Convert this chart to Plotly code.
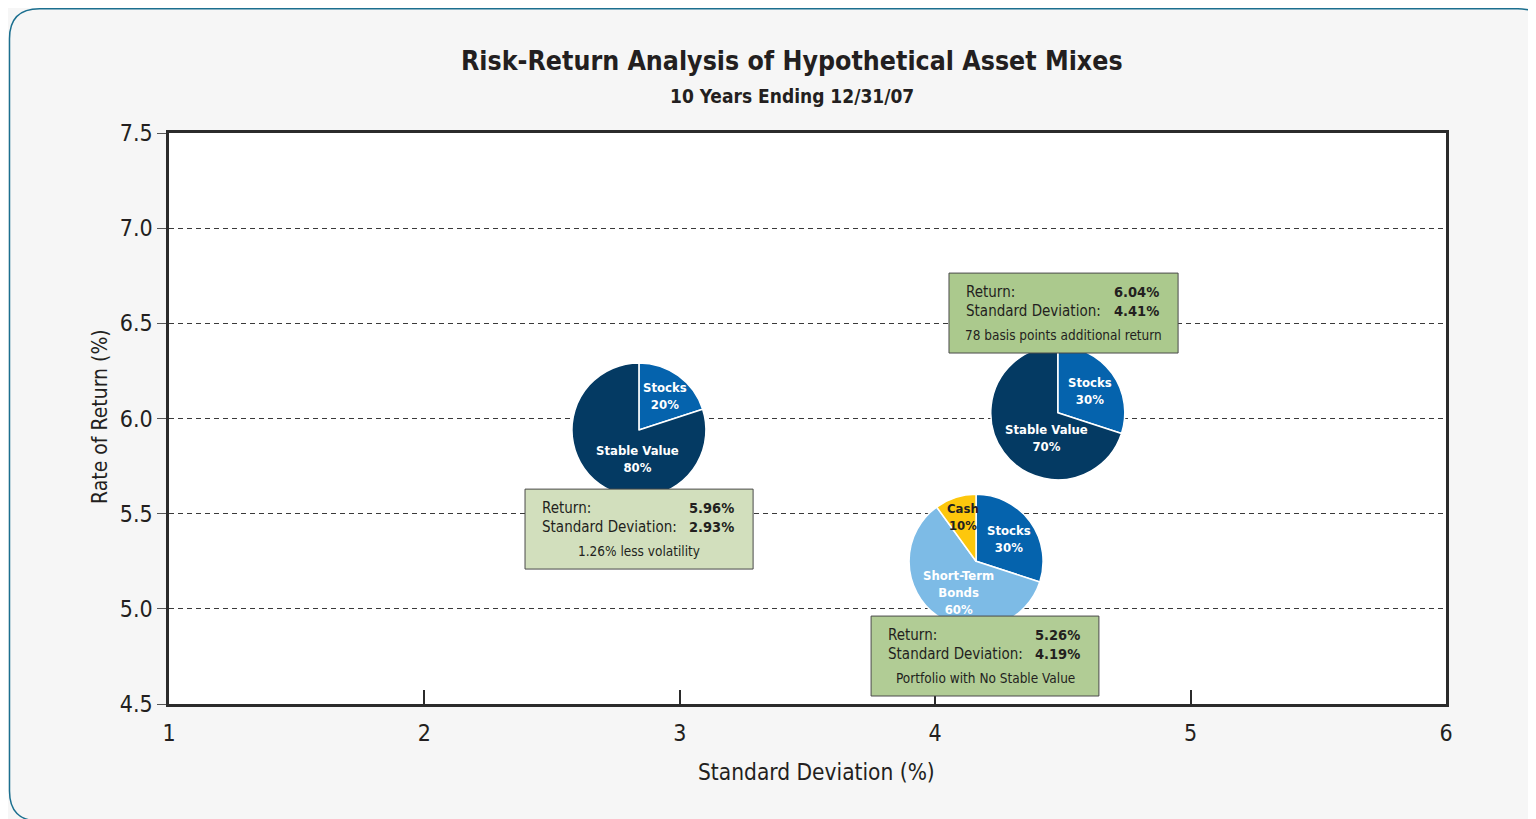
import plotly.graph_objects as go

# ---------------- data ----------------
portfolios = ["80/20 Stable Value", "70/30 Stable Value", "No Stable Value"]
returns = [5.96, 6.04, 5.26]
std_devs = [2.93, 4.41, 4.19]
notes = ["1.26% less volatility", "78 basis points additional return", "Portfolio with No Stable Value"]

# where each pie sits on the chart (SD, return)
pie_sd = [2.84, 4.48, 4.16]
pie_ret = [5.94, 6.03, 5.25]

pie1_labels = ["Stocks", "Stable Value"]
pie1_values = [20, 80]
pie2_labels = ["Stocks", "Stable Value"]
pie2_values = [30, 70]
pie3_labels = ["Stocks", "Short-Term<br>Bonds", "Cash"]
pie3_values = [30, 60, 10]

x_ticks = [1, 2, 3, 4, 5, 6]
y_ticks = [4.5, 5.0, 5.5, 6.0, 6.5, 7.0, 7.5]

# ---------------- layout constants ----------------
OFF = 8                      # page body margin
W, H = 1536 - OFF, 819 - OFF
ML, MR, MT, MB = 169 - OFF, 90, 133 - OFF, 115
PW, PH = W - ML - MR, H - MT - MB
XR = (1, 6)
YR = (4.5, 7.5)
FONT = "DejaVu Sans Condensed, Liberation Sans Narrow, Arial Narrow, sans-serif"
TXT = "#231f20"

COL = {"Stocks": "#0563ad", "Stable Value": "#043a63",
       "Short-Term<br>Bonds": "#7dbbe6", "Cash": "#fdc70c"}


def fx(v):  # data x -> paper
    return (v - XR[0]) / (XR[1] - XR[0])


def fy(v):
    return (v - YR[0]) / (YR[1] - YR[0])


def px2paper(px, py):  # page pixel -> paper fraction
    return (px - OFF - ML) / PW, (H - MB - (py - OFF)) / PH


R_PX = 67
fig = go.Figure()

# invisible scatter to create axes
fig.add_trace(go.Scatter(x=[None], y=[None], showlegend=False, hoverinfo="skip"))

for (labels, values), sx, sy in zip(
        [(pie1_labels, pie1_values), (pie2_labels, pie2_values), (pie3_labels, pie3_values)],
        pie_sd, pie_ret):
    cx, cy = fx(sx), fy(sy)
    rx, ry = R_PX / PW, R_PX / PH
    fig.add_trace(go.Pie(
        labels=labels, values=values, sort=False, direction="clockwise", rotation=0,
        marker=dict(colors=[COL[l] for l in labels], line=dict(color="white", width=1.5)),
        textinfo="none", hoverinfo="label+percent", showlegend=False,
        domain=dict(x=[cx - rx, cx + rx], y=[cy - ry, cy + ry]),
    ))

shapes = []
annotations = []

# slice labels
slice_labels = [
    ("Stocks<br>20%", 2.942, 6.118, "white"),
    ("Stable Value<br>80%", 2.836, 5.787, "white"),
    ("Stocks<br>30%", 4.606, 6.144, "white"),
    ("Stable Value<br>70%", 4.434, 5.898, "white"),
    ("Cash<br>10%", 4.109, 5.482, TXT),
    ("Stocks<br>30%", 4.289, 5.367, "white"),
    ("Short-Term<br>Bonds<br>60%", 4.093, 5.088, "white"),
]
for t, x, y, c in slice_labels:
    annotations.append(dict(x=x, y=y, xref="x", yref="y", text="<b>%s</b>" % t, showarrow=False,
                            xanchor="center", yanchor="middle",
                            font=dict(family=FONT, size=13, color=c), align="center"))

# info boxes: (x0, x1, y_bottom, y_top) in data units, fill colour
boxes = [
    (2.394, 3.287, 5.209, 5.629, "#d2dfbd"),
    (4.054, 4.951, 6.344, 6.764, "#abc98d"),
    (3.749, 4.641, 4.542, 4.962, "#b1cc95"),
]
for i, (x0, x1, y0, y1, fc) in enumerate(boxes):
    shapes.append(dict(type="rect", xref="x", yref="y", x0=x0, x1=x1, y0=y0, y1=y1,
                       fillcolor=fc, line=dict(color="#4a4a4a", width=1), layer="above"))
    h = y1 - y0
    w = x1 - x0
    left = x0 + w * 0.066
    right = x1 - w * 0.075
    r1 = y1 - h * 0.24
    r2 = y1 - h * 0.475
    r3 = y1 - h * 0.775
    common = dict(xref="x", yref="y", showarrow=False, yanchor="middle")
    annotations += [
        dict(x=left, y=r1, text="Return:", xanchor="left",
             font=dict(family=FONT, size=15, color=TXT), **common),
        dict(x=left, y=r2, text="Standard Deviation:", xanchor="left",
             font=dict(family=FONT, size=15, color=TXT), **common),
        dict(x=right, y=r1, text="<b>%.2f%%</b>" % returns[i], xanchor="right",
             font=dict(family=FONT, size=14.5, color=TXT), **common),
        dict(x=right, y=r2, text="<b>%.2f%%</b>" % std_devs[i], xanchor="right",
             font=dict(family=FONT, size=14.5, color=TXT), **common),
        dict(x=(x0 + x1) / 2, y=r3, text=notes[i], xanchor="center",
             font=dict(family=FONT, size=13.5, color=TXT), **common),
    ]


# rounded outer frame (page pixels)
def frame_path(x0p, y0p, x1p, y1p, r):
    def P(px, py):
        x, y = px2paper(px, py)
        return "%.5f,%.5f" % (x, y)
    return ("M " + P(x0p + r, y0p) + " L " + P(x1p - r, y0p) + " Q " + P(x1p, y0p) + " " + P(x1p, y0p + r)
            + " L " + P(x1p, y1p - r) + " Q " + P(x1p, y1p) + " " + P(x1p - r, y1p)
            + " L " + P(x0p + r, y1p) + " Q " + P(x0p, y1p) + " " + P(x0p, y1p - r)
            + " L " + P(x0p, y0p + r) + " Q " + P(x0p, y0p) + " " + P(x0p + r, y0p) + " Z")


shapes.append(dict(type="path", xref="paper", yref="paper", path=frame_path(9.5, 8.8, 1548, 821, 30),
                   line=dict(color="#1b6f8f", width=1.5), layer="below"))


def paper_text(px, py, text, size, angle=0):
    x, y = px2paper(px, py)
    return dict(x=x, y=y, xref="paper", yref="paper", showarrow=False, text=text,
                xanchor="center", yanchor="middle", textangle=angle,
                font=dict(family=FONT, size=size, color=TXT))


annotations.append(paper_text(792, 61, "<b>Risk-Return Analysis of Hypothetical Asset Mixes</b>", 26.5))
annotations.append(paper_text(792, 96, "<b>10 Years Ending 12/31/07</b>", 19))
annotations.append(paper_text(816, 772, "Standard Deviation (%)", 22.5))
annotations.append(paper_text(100, 417, "Rate of Return (%)", 21, angle=-90))

fig.update_layout(
    width=W, height=H,
    margin=dict(l=ML, r=MR, t=MT, b=MB, pad=0),
    paper_bgcolor="#f6f6f6", plot_bgcolor="white",
    shapes=shapes, annotations=annotations, showlegend=False,
    xaxis=dict(range=list(XR), tickvals=x_ticks, ticktext=[str(v) for v in x_ticks],
               showgrid=False, zeroline=False, showline=True, linewidth=2.5, linecolor="#2b2b2b",
               mirror=True, ticks="inside", ticklen=14, tickwidth=1.5, tickcolor="#2b2b2b",
               ticklabelstandoff=7,
               tickfont=dict(family=FONT, size=23, color=TXT), fixedrange=True),
    yaxis=dict(range=list(YR), tickvals=y_ticks, ticktext=["%.1f" % v for v in y_ticks],
               showgrid=True, gridcolor="#3a3a3a", griddash="5px,4px", gridwidth=1,
               zeroline=False, showline=True, linewidth=2.5, linecolor="#2b2b2b", mirror=True,
               ticks="outside", ticklen=9, tickwidth=1, tickcolor="#555555",
               tickfont=dict(family=FONT, size=23, color=TXT), fixedrange=True),
)

fig.write_html("out.html")
